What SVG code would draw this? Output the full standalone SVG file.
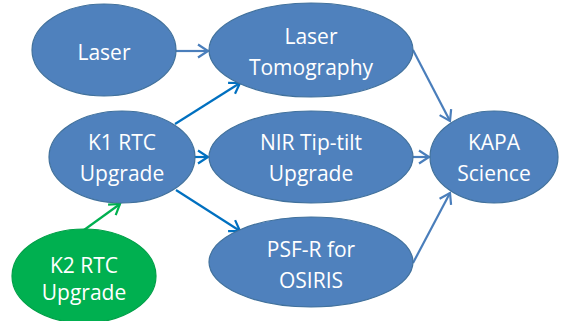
<svg xmlns="http://www.w3.org/2000/svg" width="566" height="321" viewBox="0 0 566 321">
<defs>
<style>
.n{fill:#4F81BD;stroke:#41719C;stroke-width:1.2}
.g{fill:#00B050;stroke:#00A048;stroke-width:1.2}
text{font-family:"Open Sans","Liberation Sans",sans-serif;font-size:21px;fill:#FFFFFF;text-anchor:middle}
.c{fill:none;stroke-width:2.2}
.b1{stroke:#4A7EBB}
.b2{stroke:#0070C0}
.gr{stroke:#00B050}
</style>
<marker id="mb1" markerUnits="userSpaceOnUse" markerWidth="16" markerHeight="16" refX="12" refY="8" orient="auto"><path d="M2,1.5 L12,8 L2,14.5" fill="none" stroke="#4A7EBB" stroke-width="2.2"/></marker>
<marker id="mb2" markerUnits="userSpaceOnUse" markerWidth="16" markerHeight="16" refX="12" refY="8" orient="auto"><path d="M2,1.5 L12,8 L2,14.5" fill="none" stroke="#0070C0" stroke-width="2.2"/></marker>
<marker id="mg" markerUnits="userSpaceOnUse" markerWidth="16" markerHeight="16" refX="12" refY="8" orient="auto"><path d="M2,1.5 L12,8 L2,14.5" fill="none" stroke="#00B050" stroke-width="2.2"/></marker>
</defs>
<g id="connectors">
<line class="c b1" x1="176" y1="51" x2="208" y2="51" marker-end="url(#mb1)"/>
<line class="c b2" x1="175" y1="124" x2="240" y2="83" marker-end="url(#mb2)"/>
<line class="c b2" x1="195" y1="157" x2="208" y2="157" marker-end="url(#mb2)"/>
<line class="c b2" x1="176" y1="190" x2="240" y2="231" marker-end="url(#mb2)"/>
<line class="c gr" x1="84" y1="230" x2="120" y2="204" marker-end="url(#mg)"/>
<line class="c b1" x1="413" y1="50" x2="450" y2="121" marker-end="url(#mb1)"/>
<line class="c b1" x1="413" y1="157" x2="429" y2="157" marker-end="url(#mb1)"/>
<line class="c b1" x1="413" y1="263" x2="450" y2="193" marker-end="url(#mb1)"/>
</g>
<g id="laser"><ellipse class="n" cx="104" cy="50" rx="72" ry="46"/><text x="104" y="60">Laser</text></g>
<g id="laser-tomography"><ellipse class="n" cx="311" cy="50" rx="102" ry="47"/><text x="311" y="44">Laser</text><text x="311" y="75">Tomography</text></g>
<g id="k1-rtc"><ellipse class="n" cx="122" cy="157" rx="73" ry="46"/><text x="122" y="150">K1 RTC</text><text x="122" y="181">Upgrade</text></g>
<g id="nir-tip-tilt"><ellipse class="n" cx="311" cy="157" rx="102" ry="46"/><text x="311" y="150">NIR Tip-tilt</text><text x="311" y="181">Upgrade</text></g>
<g id="kapa"><ellipse class="n" cx="494" cy="157" rx="64" ry="46"/><text x="494" y="150">KAPA</text><text x="494" y="181">Science</text></g>
<g id="psf-r"><ellipse class="n" cx="311" cy="262" rx="102" ry="45"/><text x="311" y="257">PSF-R for</text><text x="311" y="288">OSIRIS</text></g>
<g id="k2-rtc"><ellipse class="g" cx="84" cy="276" rx="72" ry="47"/><text x="84" y="273">K2 RTC</text><text x="84" y="300">Upgrade</text></g>
</svg>
